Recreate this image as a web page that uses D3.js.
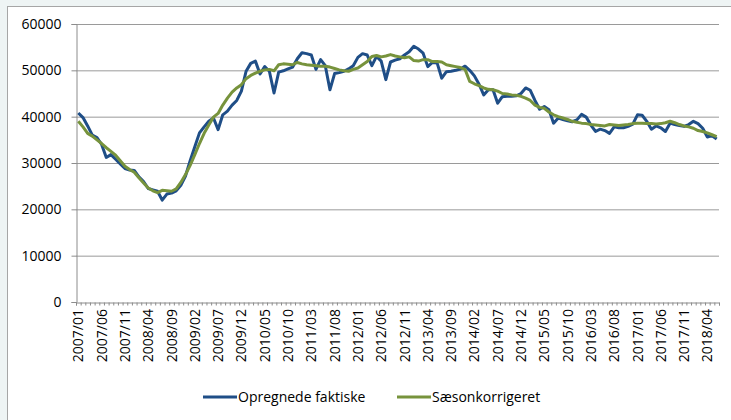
<!DOCTYPE html>
<html>
<head>
<meta charset="utf-8">
<script src="https://cdn.jsdelivr.net/npm/d3@7"></script>
<style>
  body { margin: 0; background: #eef4f4; }
  text { font-family: "Open Sans", sans-serif; fill: #000; }
</style>
</head>
<body>
<div id="graph"></div>
<script>
// months 2007/01 .. 2018/06
const startYear = 2007;
const monthCount = 138;
const months = [];
for (let i = 0; i < monthCount; i++) {
    const y = startYear + Math.floor(i / 12);
    const m = (i % 12) + 1;
    months.push(y + '/' + (m < 10 ? '0' + m : m));
}

const tickLabels = ['2007/01', '2007/06', '2007/11', '2008/04', '2008/09', '2009/02', '2009/07',
    '2009/12', '2010/05', '2010/10', '2011/03', '2011/08', '2012/01', '2012/06', '2012/11',
    '2013/04', '2013/09', '2014/02', '2014/07', '2014/12', '2015/05', '2015/10', '2016/03',
    '2016/08', '2017/01', '2017/06', '2017/11', '2018/04'];

const yTicks = [0, 10000, 20000, 30000, 40000, 50000, 60000];

const faktiske = [
    40800, 39800, 38000, 36000, 35500, 34000, 31200, 31800, 30800, 29800, 28800, 28500,
    28400, 27000, 26000, 24500, 24200, 23900, 22000, 23300, 23500, 24000, 25200, 27200,
    30500, 33500, 36500, 37800, 39000, 39700, 37200, 40400, 41200, 42500, 43500, 45500,
    49800, 51500, 52000, 49200, 50800, 49800, 45100, 49600, 49900, 50300, 50700, 52500,
    53800, 53600, 53300, 50200, 52300, 51000, 45800, 49300, 49500, 49800, 50300, 51000,
    52800, 53600, 53300, 51000, 53000, 52000, 48000, 51800, 52200, 52500, 53300, 54000,
    55200, 54600, 53700, 50800, 51700, 51600, 48300, 49700, 49800, 50000, 50300, 50900,
    50000, 48800, 47000, 44700, 45800, 45800, 42900, 44300, 44400, 44400, 44500, 45000,
    46200, 45700, 43500, 41600, 42200, 41500, 38600, 39700, 39400, 39100, 38900, 39300,
    40500, 39900, 38200, 36800, 37300, 37000, 36400, 37800, 37600, 37600, 37900, 38400,
    40400, 40300, 39000, 37300, 38000, 37600, 36800, 38600, 38300, 38100, 37900, 38300,
    39000, 38500, 37500, 35600, 35900, 35200
];

const saeson = [
    39000, 37800, 36400, 35800, 35000, 34200, 33300, 32500, 31700, 30500, 29300, 28600,
    28000, 26800, 25700, 24600, 24000, 23600, 24100, 24000, 23900, 24400, 25800, 27500,
    29500, 31800, 34200, 36400, 38200, 39900, 40700, 42500, 44000, 45300, 46200, 46900,
    48200, 48900, 49400, 49800, 50100, 50200, 49900, 51200, 51400, 51300, 51200, 51700,
    51400, 51200, 51100, 51000, 50900, 50900, 50700, 50400, 50100, 49900, 49800, 50200,
    50500, 51200, 51900, 53000, 53200, 52900, 53100, 53400, 53100, 52900, 52700, 52900,
    52100, 52000, 52300, 52300, 51900, 51900, 51800, 51200, 51000, 50800, 50600, 50200,
    47600, 47100, 46700, 46200, 45900, 45800, 45500, 45000, 44900, 44700, 44600, 44400,
    44000, 43500, 42500, 42000, 41800, 41000, 40400, 40000, 39700, 39400, 39000, 38800,
    38600, 38500, 38300, 38200, 38100, 38000, 38300, 38200, 38100, 38200, 38300, 38500,
    38600, 38600, 38500, 38500, 38400, 38500, 38700, 39000, 38700, 38300, 38000, 37800,
    37500, 37000, 36800, 36500, 36100, 35700
];

const series = [
    { name: 'Opregnede faktiske', values: faktiske, color: '#1f4e87' },
    { name: 'Sæsonkorrigeret', values: saeson, color: '#77933c' }
];

const w = 731;
const h = 420;
const plotLeft = 76, plotRight = 719, plotTop = 24, plotBottom = 302;

const svg = d3.select('#graph')
    .append('svg')
    .attr('width', w)
    .attr('height', h);

// chart frame
svg.append('rect')
    .attr('x', 7.5)
    .attr('y', 6.5)
    .attr('width', 730)
    .attr('height', 430)
    .attr('fill', '#fff')
    .attr('stroke', '#a6a6a6');

const xScale = d3.scaleBand()
    .domain(months)
    .range([plotLeft, plotRight]);

const yScale = d3.scaleLinear()
    .domain([0, 60000])
    .range([plotBottom, plotTop]);

// gridlines
svg.append('g')
    .selectAll('line')
    .data(yTicks.slice(1))
    .enter()
    .append('line')
    .attr('x1', plotLeft)
    .attr('x2', plotRight)
    .attr('y1', (d) => yScale(d) + 0.5)
    .attr('y2', (d) => yScale(d) + 0.5)
    .attr('stroke', '#9a9a9a')
    .attr('stroke-width', 1);

// y axis
const yAxis = d3.axisLeft(yScale)
    .tickValues(yTicks)
    .tickSize(5)
    .tickPadding(10)
    .tickFormat(d3.format('d'));

const gy = svg.append('g')
    .attr('transform', 'translate(' + (plotLeft + 0.5) + ',0)')
    .call(yAxis);
gy.select('.domain').attr('stroke', '#8c8c8c');
gy.selectAll('.tick line').attr('stroke', '#8c8c8c');
gy.selectAll('.tick text')
    .style('font-size', '14px')
    .style('font-family', '"Open Sans", sans-serif')
    .attr('fill', '#000');

// x axis minor ticks between months
const edgeScale = d3.scaleLinear().domain([0, monthCount]).range([plotLeft, plotRight]);
const gx2 = svg.append('g')
    .attr('transform', 'translate(0,' + (plotBottom + 0.5) + ')')
    .call(d3.axisBottom(edgeScale).tickValues(d3.range(monthCount + 1)).tickSize(3).tickFormat(''));
gx2.select('.domain').attr('stroke', '#8c8c8c');
gx2.selectAll('.tick line').attr('stroke', '#8c8c8c');

// x axis labels
const xAxis = d3.axisBottom(xScale)
    .tickValues(tickLabels)
    .tickSize(0);

const gx = svg.append('g')
    .attr('transform', 'translate(0,' + plotBottom + ')')
    .call(xAxis);
gx.select('.domain').remove();
gx.selectAll('.tick text')
    .style('font-size', '14px')
    .style('font-family', '"Open Sans", sans-serif')
    .attr('fill', '#000')
    .attr('transform', 'rotate(-90)')
    .attr('x', -7)
    .attr('y', 0)
    .attr('dy', '0.36em')
    .style('text-anchor', 'end');

// lines
const line = d3.line()
    .x((d, i) => xScale(months[i]) + xScale.bandwidth() / 2)
    .y((d) => yScale(d));

svg.selectAll('.series')
    .data(series)
    .enter()
    .append('path')
    .attr('class', 'series')
    .attr('d', (d) => line(d.values))
    .attr('fill', 'none')
    .attr('stroke', (d) => d.color)
    .attr('stroke-width', 3)
    .attr('stroke-linejoin', 'round');

// legend
const legendX = [203, 397];
const legend = svg.selectAll('.legend')
    .data(series)
    .enter().append('g')
    .attr('class', 'legend')
    .attr('transform', (d, i) => 'translate(' + legendX[i] + ',397)');

legend.append('line')
    .attr('x1', 0)
    .attr('x2', 34)
    .attr('stroke', (d) => d.color)
    .attr('stroke-width', 3);

legend.append('text')
    .attr('x', 35)
    .attr('dy', '0.36em')
    .style('font-size', '14px')
    .text((d) => d.name);
</script>
</body>
</html>
